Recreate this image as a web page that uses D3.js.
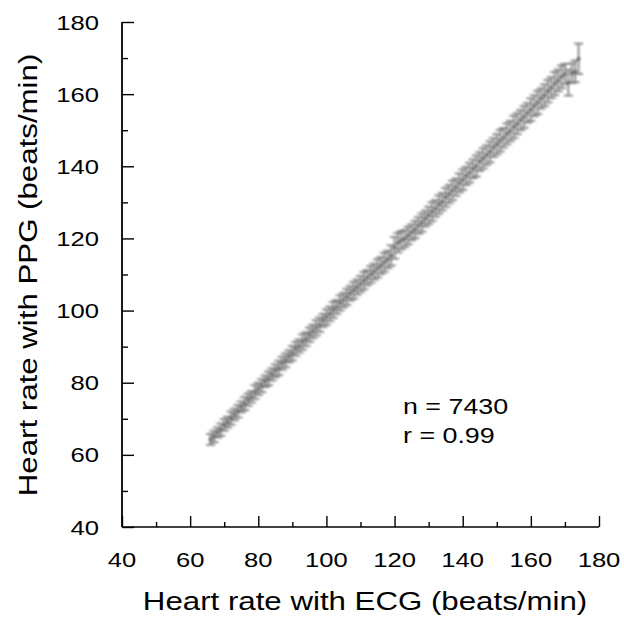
<!DOCTYPE html>
<html>
<head>
<meta charset="utf-8">
<script src="https://cdn.jsdelivr.net/npm/d3@7"></script>
<style>
  body { margin: 0; background: #fff; }
  text { font-family: 'Liberation Sans', Arial, Helvetica, sans-serif; fill: #000; }
</style>
</head>
<body>
<script>
// heart rate by ECG (beats/min), one group per integer value
const ecg = [
  66, 67, 68, 69, 70, 71, 72, 73, 74, 75,
  76, 77, 78, 79, 80, 81, 82, 83, 84, 85,
  86, 87, 88, 89, 90, 91, 92, 93, 94, 95,
  96, 97, 98, 99, 100, 101, 102, 103, 104, 105,
  106, 107, 108, 109, 110, 111, 112, 113, 114, 115,
  116, 117, 118, 119, 120, 121, 122, 123, 124, 125,
  126, 127, 128, 129, 130, 131, 132, 133, 134, 135,
  136, 137, 138, 139, 140, 141, 142, 143, 144, 145,
  146, 147, 148, 149, 150, 151, 152, 153, 154, 155,
  156, 157, 158, 159, 160, 161, 162, 163, 164, 165,
  166, 167, 168, 169, 170, 171, 172, 173, 174,
];
// mean heart rate by PPG for each ECG value
const ppg = [
  64.3, 65.1, 66.2, 67.0, 68.3, 69.1, 70.2, 71.2, 72.1, 73.3,
  74.2, 75.3, 76.1, 77.4, 78.3, 79.2, 80.4, 81.2, 82.3, 83.3,
  84.1, 85.4, 86.2, 87.3, 88.2, 89.4, 90.2, 91.3, 92.1, 93.3,
  94.2, 95.2, 96.1, 97.3, 98.2, 99.1, 100.2, 101.0, 102.1, 102.9,
  103.8, 104.8, 105.6, 106.5, 107.4, 108.3, 109.1, 110.0, 110.8, 111.7,
  112.5, 113.4, 114.2, 115.3, 117.4, 118.8, 119.5, 120.0, 120.8, 121.7,
  122.5, 123.6, 124.4, 125.5, 126.4, 127.4, 128.3, 129.4, 130.2, 131.4,
  132.3, 133.3, 134.2, 135.4, 136.3, 137.3, 138.2, 139.3, 140.1, 141.3,
  142.2, 143.1, 144.0, 145.2, 146.1, 147.1, 147.9, 149.0, 149.8, 150.9,
  151.8, 152.8, 153.7, 154.8, 155.7, 156.8, 157.7, 158.8, 159.7, 160.8,
  161.8, 162.9, 163.8, 164.8, 165.6, 163.2, 165.8, 166.3, 169.8,
];
// standard deviation (error bar half length)
const sd = [
  1.5, 1.6, 1.4, 1.7, 1.6, 1.5, 1.8, 1.6, 1.7, 1.5,
  1.8, 1.7, 1.6, 1.9, 1.7, 1.8, 1.6, 1.9, 1.7, 1.8,
  2.0, 1.8, 1.9, 1.7, 2.0, 1.9, 1.8, 2.1, 1.9, 2.0,
  1.9, 2.1, 2.0, 1.8, 2.1, 2.0, 2.2, 1.9, 2.1, 2.0,
  2.2, 2.0, 2.3, 2.1, 2.2, 2.4, 2.1, 2.3, 2.2, 2.5,
  2.3, 2.6, 2.4, 2.8, 3.0, 2.7, 2.5, 2.3, 2.4, 2.2,
  2.4, 2.3, 2.5, 2.2, 2.4, 2.6, 2.3, 2.5, 2.4, 2.6,
  2.5, 2.7, 2.4, 2.6, 2.8, 2.5, 2.7, 2.6, 2.9, 2.6,
  2.8, 2.7, 2.9, 2.6, 2.8, 3.0, 2.7, 2.9, 2.8, 3.1,
  2.9, 2.8, 3.0, 2.7, 3.1, 2.9, 3.2, 2.8, 3.0, 3.1,
  2.9, 3.2, 3.0, 3.1, 2.8, 3.6, 2.7, 3.0, 4.2,
];
const axisTicks = [40, 60, 80, 100, 120, 140, 160, 180];
const minorTicks = [50, 70, 90, 110, 130, 150, 170];
const notes = ['n = 7430', 'r = 0.99'];

const data = ecg.map((x, i) => ({ x: x, y: ppg[i], sd: sd[i] }));

const width = 624;
const height = 618;
const box = { left: 122, right: 599, top: 22, bottom: 527 };

const svg = d3
  .select('body')
  .append('svg')
  .attr('width', width)
  .attr('height', height);

const xScale = d3.scaleLinear().domain([40, 180]).range([box.left, box.right]);
const yScale = d3.scaleLinear().domain([40, 180]).range([box.bottom, box.top]);

// soft look of the scanned marks
svg
  .append('defs')
  .append('filter')
  .attr('id', 'soft')
  .attr('x', '-5%')
  .attr('y', '-5%')
  .attr('width', '110%')
  .attr('height', '110%')
  .append('feGaussianBlur')
  .attr('stdDeviation', 0.8);

// axes: ticks point inward, labels drawn separately
const yMajor = d3.axisRight(yScale).tickValues(axisTicks).tickSize(12).tickFormat('');
const yMinor = d3.axisRight(yScale).tickValues(minorTicks).tickSize(6).tickFormat('');
const xMajor = d3.axisTop(xScale).tickValues(axisTicks).tickSize(11).tickFormat('');
const xMinor = d3.axisTop(xScale).tickValues(minorTicks).tickSize(5).tickFormat('');

[yMajor, yMinor].forEach((ax) => {
  svg
    .append('g')
    .attr('class', 'y-axis')
    .attr('transform', `translate(${box.left},0)`)
    .call(ax);
});
[xMajor, xMinor].forEach((ax) => {
  svg
    .append('g')
    .attr('class', 'x-axis')
    .attr('transform', `translate(0,${box.bottom})`)
    .call(ax);
});
svg.selectAll('.domain').remove();
svg.selectAll('.tick line').attr('stroke', '#000').attr('stroke-width', 1.4);

svg
  .append('line')
  .attr('x1', box.left)
  .attr('x2', box.left)
  .attr('y1', yScale(180))
  .attr('y2', yScale(40))
  .attr('stroke', '#000')
  .attr('stroke-width', 1.8);
svg
  .append('line')
  .attr('x1', xScale(40))
  .attr('x2', xScale(180))
  .attr('y1', box.bottom)
  .attr('y2', box.bottom)
  .attr('stroke', '#000')
  .attr('stroke-width', 1.6);

// helper: text widened along its baseline (the scanned lettering is wide)
const label = (x, y, str, size, anchor, stretch, rotate) => {
  svg
    .append('text')
    .attr(
      'transform',
      `translate(${x},${y})${rotate ? ' rotate(-90)' : ''} scale(${stretch},1)`
    )
    .attr('text-anchor', anchor)
    .style('font-size', size + 'px')
    .text(str);
};

// tick labels
axisTicks.forEach((d) => label(99, yScale(d) + 7.5, d, 21, 'end', 1.22));
axisTicks.forEach((d) => label(xScale(d), 567, d, 21, 'middle', 1.22));

// axis titles
label(365, 610, 'Heart rate with ECG (beats/min)', 25, 'middle', 1.25);
label(37, 275, 'Heart rate with PPG (beats/min)', 25, 'middle', 1.25, true);

// error bars and means
const marks = svg.append('g').attr('filter', 'url(#soft)');
const capHalf = 4.5;

const bars = marks
  .selectAll('g.bar')
  .data(data)
  .enter()
  .append('g')
  .attr('class', 'bar')
  .attr('stroke', '#7a7a7a')
  .attr('stroke-width', 1.7);

bars
  .append('line')
  .attr('x1', (d) => xScale(d.x))
  .attr('x2', (d) => xScale(d.x))
  .attr('y1', (d) => yScale(d.y + d.sd))
  .attr('y2', (d) => yScale(d.y - d.sd));
bars
  .append('line')
  .attr('x1', (d) => xScale(d.x) - capHalf)
  .attr('x2', (d) => xScale(d.x) + capHalf)
  .attr('y1', (d) => yScale(d.y + d.sd))
  .attr('y2', (d) => yScale(d.y + d.sd));
bars
  .append('line')
  .attr('x1', (d) => xScale(d.x) - capHalf)
  .attr('x2', (d) => xScale(d.x) + capHalf)
  .attr('y1', (d) => yScale(d.y - d.sd))
  .attr('y2', (d) => yScale(d.y - d.sd));

marks
  .selectAll('circle')
  .data(data)
  .enter()
  .append('circle')
  .attr('cx', (d) => xScale(d.x))
  .attr('cy', (d) => yScale(d.y))
  .attr('r', 2)
  .attr('fill', '#666');

// annotation
notes.forEach((d, i) => label(403, 414 + i * 29, d, 22, 'start', 1.22));
</script>
</body>
</html>
